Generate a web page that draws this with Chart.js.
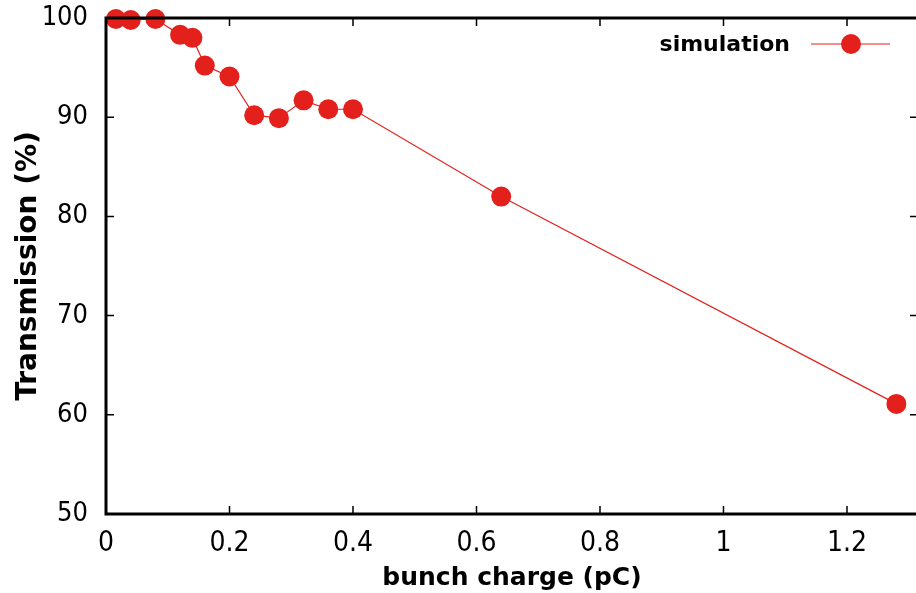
<!DOCTYPE html>
<html>
<head>
<meta charset="utf-8">
<script src="https://cdn.jsdelivr.net/npm/chart.js@4/dist/chart.umd.min.js"></script>
<style>
  html, body { margin: 0; padding: 0; background: #fff; overflow: hidden; }
  #wrap { width: 918px; height: 593px; }
</style>
</head>
<body>
<div id="wrap"><canvas id="myChart"></canvas></div>
<script>
// bunch charge (pC) and transmission (%)
let charge = [0.016, 0.04, 0.08, 0.12, 0.14, 0.16, 0.2, 0.24, 0.28, 0.32, 0.36, 0.4, 0.64, 1.28];
let transmission = [99.9, 99.8, 99.9, 98.3, 98.0, 95.2, 94.1, 90.2, 89.9, 91.7, 90.8, 90.8, 82.0, 61.1];
let xTicks = [0, 0.2, 0.4, 0.6, 0.8, 1, 1.2];
let yTicks = [50, 60, 70, 80, 90, 100];
let seriesName = "simulation";

const red = "#e3201b";
const condFont = "'DejaVu Sans Condensed', 'DejaVu Sans', sans-serif";
const boldFont = "'DejaVu Sans', sans-serif";

// frame, inward ticks on all four sides, and the legend
const framePlugin = {
  id: "frame",
  afterDraw(chart) {
    const ctx = chart.ctx;
    const a = chart.chartArea;
    const xs = chart.scales.x, ys = chart.scales.y;
    ctx.save();
    ctx.strokeStyle = "#000";
    ctx.lineWidth = 1.5;
    xTicks.forEach(v => {
      const px = xs.getPixelForValue(v);
      ctx.beginPath();
      ctx.moveTo(px, a.bottom); ctx.lineTo(px, a.bottom - 8);
      ctx.moveTo(px, a.top); ctx.lineTo(px, a.top + 8);
      ctx.stroke();
    });
    yTicks.forEach(v => {
      const py = ys.getPixelForValue(v);
      ctx.beginPath();
      ctx.moveTo(a.left, py); ctx.lineTo(a.left + 8, py);
      ctx.moveTo(a.right, py); ctx.lineTo(a.right - 8, py);
      ctx.stroke();
    });
    ctx.lineWidth = 3;
    ctx.strokeRect(a.left, a.top, a.right - a.left, a.bottom - a.top);

    // legend
    ctx.font = "bold 22px " + boldFont;
    ctx.fillStyle = "#000";
    ctx.textAlign = "right";
    ctx.textBaseline = "middle";
    ctx.fillText(seriesName, 790, 45);
    ctx.strokeStyle = red;
    ctx.lineWidth = 1.2;
    ctx.beginPath();
    ctx.moveTo(811, 44); ctx.lineTo(890, 44);
    ctx.stroke();
    ctx.fillStyle = red;
    ctx.beginPath();
    ctx.arc(851, 44, 10, 0, Math.PI * 2);
    ctx.fill();
    ctx.restore();
  }
};

let ctx = document.getElementById("myChart").getContext("2d");

const myChart = new Chart(ctx, {
  type: "scatter",
  data: {
    datasets: [{
      label: seriesName,
      data: charge.map((c, i) => ({ x: c, y: transmission[i] })),
      showLine: true,
      borderColor: red,
      borderWidth: 1.2,
      backgroundColor: red,
      pointRadius: 10,
      pointHoverRadius: 10,
      pointBorderWidth: 0,
      clip: false
    }]
  },
  options: {
    responsive: true,
    maintainAspectRatio: false,
    animation: false,
    layout: { autoPadding: false, padding: { top: 18, right: 0, left: 0, bottom: 0 } },
    plugins: {
      legend: { display: false },
      tooltip: { enabled: false }
    },
    scales: {
      x: {
        type: "linear",
        min: 0,
        max: 1.315,
        afterBuildTicks: (s) => { s.ticks = xTicks.map(v => ({ value: v })); },
        afterFit: (s) => { s.height = 79; s.paddingLeft = 0; s.paddingRight = 0; },
        grid: { display: false },
        border: { display: false },
        ticks: {
          color: "#000",
          font: { family: condFont, size: 28 },
          padding: 5,
          maxRotation: 0,
          callback: (v) => String(v)
        },
        title: {
          display: true,
          text: "bunch charge (pC)",
          color: "#000",
          font: { family: boldFont, size: 25, weight: "bold" },
          padding: { top: 2, bottom: 0 }
        }
      },
      y: {
        type: "linear",
        min: 50,
        max: 100,
        afterBuildTicks: (s) => { s.ticks = yTicks.map(v => ({ value: v })); },
        afterFit: (s) => { s.width = 106; s.paddingTop = 0; s.paddingBottom = 0; },
        grid: { display: false },
        border: { display: false },
        ticks: {
          color: "#000",
          font: { family: condFont, size: 27 },
          padding: 10
        },
        title: {
          display: true,
          text: "Transmission (%)",
          color: "#000",
          font: { family: boldFont, size: 28, weight: "bold" },
          padding: { top: 12, bottom: 0 }
        }
      }
    }
  },
  plugins: [framePlugin]
});
</script>
</body>
</html>
